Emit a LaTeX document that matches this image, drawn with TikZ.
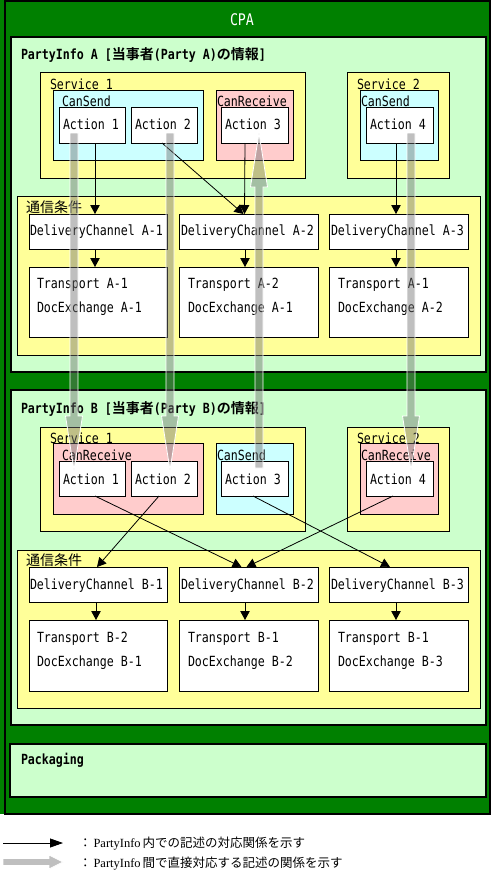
\documentclass[tikz,border=0pt]{standalone}
\usepackage{fontspec}
\setmainfont[FakeStretch=0.83]{DejaVu Sans Mono}
\newfontfamily\jp{Noto Sans CJK JP}[BoldFont={Noto Sans CJK JP Bold}]
\newfontfamily\lserif{Liberation Serif}
\usetikzlibrary{arrows.meta,calc}
\definecolor{cpagreen}{HTML}{008000}
\definecolor{lgreen}{HTML}{CCFFCC}
\definecolor{lyellow}{HTML}{FFFF99}
\definecolor{lcyan}{HTML}{CCFFFF}
\definecolor{lpink}{HTML}{FFCCCC}
\tikzset{
 box/.style={draw=black, line width=1pt, inner sep=0pt, outer sep=0pt, anchor=north west},
 party/.style={box, fill=lgreen, line width=2pt},
 svc/.style={box, fill=lyellow},
 sendbox/.style={box, fill=lcyan},
 recvbox/.style={box, fill=lpink},
 wbox/.style={box, fill=white},
 lbl/.style={anchor=base west, inner sep=0pt, outer sep=0pt, font=\fontsize{14}{16}\selectfont},
 ttl/.style={lbl, font=\fontsize{14}{16}\selectfont\bfseries},
 leg/.style={anchor=base west, inner sep=0pt, outer sep=0pt, font=\fontsize{12.5}{14}\selectfont},
 conn/.style={line width=0.8pt, -{Triangle[length=9pt,width=9.5pt]}},
 fatarr/.style={draw=white, line width=0.8pt, fill=black!55, fill opacity=0.45},
}
\newcommand\bx[6]{\node[#6, minimum width={#4-#2}, minimum height={#5-#3}] (#1) at (#2,#3) {};}
\newcommand\fatarrow[3]{%
 \path[fatarr] let \p1=(#1), \p2=(#2) in
 ({\x1-4pt},{\y1}) -- ({\x1-4pt},{\y2+(#3)*54pt}) -- ({\x1-8.5pt},{\y2+(#3)*54pt}) --
 ({\x1},{\y2}) -- ({\x1+8.5pt},{\y2+(#3)*54pt}) -- ({\x1+4pt},{\y2+(#3)*54pt}) --
 ({\x1+4pt},{\y1}) -- cycle;}
\newcommand\hfatarrow[2]{%
 \path[fatarr] let \p1=(#1), \p2=(#2) in
 ({\x1},{\y1+3.5pt}) -- ({\x2-14pt},{\y1+3.5pt}) -- ({\x2-14pt},{\y1+7pt}) --
 ({\x2},{\y1}) -- ({\x2-14pt},{\y1-7pt}) -- ({\x2-14pt},{\y1-3.5pt}) --
 ({\x1},{\y1-3.5pt}) -- cycle;}
\begin{document}
\begin{tikzpicture}[x=1pt,y=-1pt]
\useasboundingbox[fill=white] (0,0) rectangle (492,878);
% CPA
\fill[cpagreen] (0,0) rectangle (6,814);
\bx{cpa}{5}{1}{490}{814}{box, fill=cpagreen, line width=2pt}
\node[lbl, text=white, font=\fontsize{16}{18}\selectfont] (tcpa) at (230,25) {CPA};
% ---------------- PartyInfo A
\bx{pA}{11}{37}{486}{372}{party}
\node[ttl] (tpA) at (21,59) {PartyInfo A [{\jp 当事者}(Party A){\jp の情報}]};
\bx{svA1}{40}{72}{305}{178}{svc}
\node[lbl] (lsvA1) at (50,89) {Service 1};
\bx{csA}{53}{90}{203}{160}{sendbox}
\node[lbl] (lcsA) at (62,106) {CanSend};
\bx{a1}{59}{107}{125}{143}{wbox}
\node[lbl] (la1) at (63,129) {Action 1};
\bx{a2}{131}{107}{197}{143}{wbox}
\node[lbl] (la2) at (135,129) {Action 2};
\bx{crA}{216}{90}{293}{160}{recvbox}
\node[lbl] (lcrA) at (217,106) {CanReceive};
\bx{a3}{221}{107}{288}{143}{wbox}
\node[lbl] (la3) at (225,129) {Action 3};
\bx{svA2}{347}{72}{449}{178}{svc}
\node[lbl] (lsvA2) at (357,89) {Service 2};
\bx{cs2A}{360}{90}{438}{160}{sendbox}
\node[lbl] (lcs2A) at (361,106) {CanSend};
\bx{a4}{366}{107}{433}{143}{wbox}
\node[lbl] (la4) at (370,129) {Action 4};
\bx{ccA}{17}{196}{480}{355}{svc}
\node[lbl] (lccA) at (26,212) {\jp 通信条件};
\bx{dca1}{29}{214}{167}{249}{wbox}
\node[lbl] (ldca1) at (30,235) {DeliveryChannel A-1};
\bx{dca2}{179}{214}{318}{249}{wbox}
\node[lbl] (ldca2) at (181,235) {DeliveryChannel A-2};
\bx{dca3}{329}{214}{468}{249}{wbox}
\node[lbl] (ldca3) at (331,235) {DeliveryChannel A-3};
\bx{tpa1}{29}{267}{167}{337}{wbox}
\node[lbl] (ltpa1a) at (37,288) {Transport A-1};
\node[lbl] (ltpa1b) at (37,312) {DocExchange A-1};
\bx{tpa2}{179}{267}{318}{337}{wbox}
\node[lbl] (ltpa2a) at (188,288) {Transport A-2};
\node[lbl] (ltpa2b) at (188,312) {DocExchange A-1};
\bx{tpa3}{329}{267}{468}{337}{wbox}
\node[lbl] (ltpa3a) at (338,288) {Transport A-1};
\node[lbl] (ltpa3b) at (338,312) {DocExchange A-2};
% ---------------- PartyInfo B
\bx{pB}{11}{390}{486}{725}{party}
\node[ttl] (tpB) at (21,413) {PartyInfo B [{\jp 当事者}(Party B){\jp の情報}]};
\bx{svB1}{40}{427}{305}{531}{svc}
\node[lbl] (lsvB1) at (50,443) {Service 1};
\bx{crB}{53}{443}{203}{514}{recvbox}
\node[lbl] (lcrB) at (62,460) {CanReceive};
\bx{b1}{59}{461}{125}{496}{wbox}
\node[lbl] (lb1) at (63,484) {Action 1};
\bx{b2}{131}{461}{197}{496}{wbox}
\node[lbl] (lb2) at (135,484) {Action 2};
\bx{csB}{216}{443}{293}{514}{sendbox}
\node[lbl] (lcsB) at (217,460) {CanSend};
\bx{b3}{221}{461}{288}{496}{wbox}
\node[lbl] (lb3) at (225,484) {Action 3};
\bx{svB2}{347}{427}{449}{531}{svc}
\node[lbl] (lsvB2) at (357,443) {Service 2};
\bx{cr2B}{360}{443}{438}{514}{recvbox}
\node[lbl] (lcr2B) at (361,460) {CanReceive};
\bx{b4}{366}{461}{433}{496}{wbox}
\node[lbl] (lb4) at (370,484) {Action 4};
\bx{ccB}{17}{550}{480}{708}{svc}
\node[lbl] (lccB) at (26,565) {\jp 通信条件};
\bx{dcb1}{29}{567}{167}{602}{wbox}
\node[lbl] (ldcb1) at (30,589) {DeliveryChannel B-1};
\bx{dcb2}{179}{567}{318}{602}{wbox}
\node[lbl] (ldcb2) at (181,589) {DeliveryChannel B-2};
\bx{dcb3}{329}{567}{468}{602}{wbox}
\node[lbl] (ldcb3) at (331,589) {DeliveryChannel B-3};
\bx{tpb1}{29}{620}{167}{691}{wbox}
\node[lbl] (ltpb1a) at (37,642) {Transport B-2};
\node[lbl] (ltpb1b) at (37,666) {DocExchange B-1};
\bx{tpb2}{179}{620}{318}{691}{wbox}
\node[lbl] (ltpb2a) at (188,642) {Transport B-1};
\node[lbl] (ltpb2b) at (188,666) {DocExchange B-2};
\bx{tpb3}{329}{620}{468}{691}{wbox}
\node[lbl] (ltpb3a) at (338,642) {Transport B-1};
\node[lbl] (ltpb3b) at (338,666) {DocExchange B-3};
% ---------------- Packaging
\bx{pk}{10}{744}{486}{797}{party}
\node[ttl] (lpk) at (21,764) {Packaging};
% ---------------- black connectors A
\draw[conn] ([xshift=3pt]a1.south) -- ([xshift=3pt]a1.south |- dca1.north);
\draw[conn] ([xshift=-3pt]dca1.south) -- ([xshift=-3pt]tpa1.north);
\draw[conn] ([xshift=-2pt]a2.south) -- ([xshift=-5pt]dca2.north);
\draw[conn] ([xshift=-9.5pt]a3.south) -- ([xshift=-4pt]dca2.north);
\draw[conn] ([xshift=-3.5pt]dca2.south) -- ([xshift=-3.5pt]tpa2.north);
\draw[conn] ([xshift=-3.5pt]a4.south) -- ([xshift=-2.5pt]dca3.north);
\draw[conn] ([xshift=-2.5pt]dca3.south) -- ([xshift=-2.5pt]tpa3.north);
% ---------------- black connectors B
\draw[conn] ([xshift=3pt]b1.south) -- ([xshift=-7pt]dcb2.north);
\draw[conn] ([xshift=-5pt]b2.south) -- ([xshift=-1pt]dcb1.north);
\draw[conn] ([xshift=-1.5pt]b3.south) -- ([xshift=-8.5pt]dcb3.north);
\draw[conn] ([xshift=-6.5pt]b4.south) -- ([xshift=-2pt]dcb2.north);
\draw[conn] ([xshift=-2pt]dcb1.south) -- ([xshift=-2pt]tpb1.north);
\draw[conn] ([xshift=-3.5pt]dcb2.south) -- ([xshift=-3.5pt]tpb2.north);
\draw[conn] ([xshift=-2.5pt]dcb3.south) -- ([xshift=-2.5pt]tpb3.north);
% ---------------- gray correspondence arrows
\coordinate (g1s) at ([xshift=-18pt,yshift=10pt]a1.south);
\coordinate (g1e) at ([xshift=-18pt,yshift=-9pt]b1.north);
\coordinate (g2s) at ([xshift=6pt,yshift=10pt]a2.south);
\coordinate (g2e) at ([xshift=6pt,yshift=-9pt]b2.north);
\coordinate (g3s) at ([xshift=4.5pt,yshift=-7pt]b3.north);
\coordinate (g3e) at ([xshift=4.5pt,yshift=10pt]a3.south);
\coordinate (g4s) at ([xshift=11.5pt,yshift=10pt]a4.south);
\coordinate (g4e) at ([xshift=11.5pt,yshift=-9pt]b4.north);
\fatarrow{g1s}{g1e}{1}
\fatarrow{g2s}{g2e}{1}
\fatarrow{g3s}{g3e}{-1}
\fatarrow{g4s}{g4e}{1}
% ---------------- legend
\coordinate (lg1s) at (3,843);
\coordinate (lg1e) at (63,843);
\draw[line width=0.8pt, -{Triangle[length=13pt,width=9pt]}] (lg1s) -- (lg1e);
\node[leg] (lt1) at (79,847) {{\jp ：}\hspace{2pt}{\lserif PartyInfo}\hspace{2pt}{\jp 内での記述の対応関係を示す}};
\coordinate (lg2s) at (3,862);
\coordinate (lg2e) at (63,862);
\hfatarrow{lg2s}{lg2e}
\node[leg] (lt2) at (79,867) {{\jp ：}\hspace{2pt}{\lserif PartyInfo}\hspace{2pt}{\jp 間で直接対応する記述の関係を示す}};
\end{tikzpicture}
\end{document}
